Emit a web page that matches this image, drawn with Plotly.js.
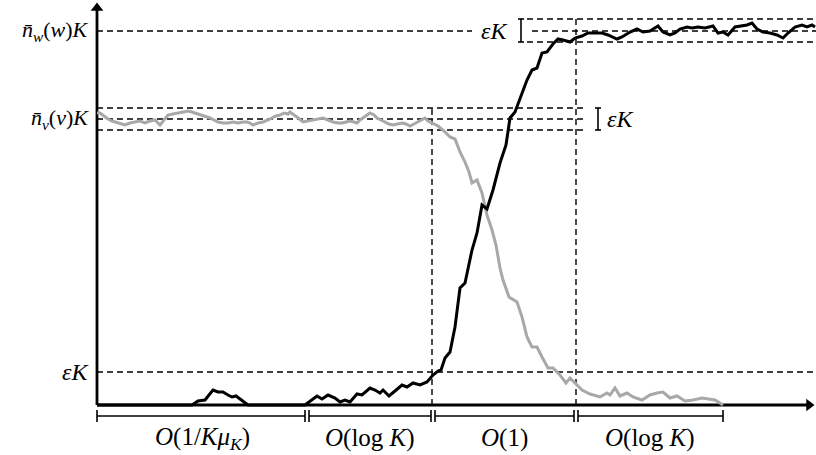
<!DOCTYPE html>
<html>
<head>
<meta charset="utf-8">
<script src="https://cdn.plot.ly/plotly-3.0.1.min.js"></script>
<style>html,body{margin:0;padding:0;background:#fff;}#chart{width:816px;height:455px;}</style>
</head>
<body>
<div id="chart"></div>
<script>
// ---- data (time t, population n; axes origin at 0,0) ----
const tGray = [0,3,7,11,15,18,23,28,33,38,43,48,53,58,63,67,71,76,81,86,91,95,98,102,105,109,113,117,121,126,131,136,141,146,150,153,156,161,166,171,175,179,183,187,191,193,197,200,206,211,216,221,226,231,236,241,245,249,253,257,260,263,266,270,273,277,280,284,288,292,296,300,305,309,313,317,321,324,328,331,335,341,346,353,358,363,368,372,375,380,385,390,395,399,403,406,412,420,425,430,435,440,445,451,456,463,469,473,480,485,493,503,510,513,518,523,530,536,545,553,560,566,573,580,588,596,605,610,618,626];
const nGray = [292,292,289,286,284,283,281,280,282,283,284,282,284,285,280,285,290,291,292,293,294,293,292,291,290,289,287,285,283,282,282,283,282,283,283,282,280,282,283,285,287,289,290,292,291,293,290,288,283,284,285,286,287,285,283,282,282,283,284,283,282,285,287,290,292,290,287,285,283,281,280,281,282,281,279,281,283,285,287,284,282,279,275,268,266,253,243,233,222,225,212,190,175,160,137,125,108,103,88,68,58,58,48,37,37,30,22,27,20,15,11,8,12,10,17,9,12,8,5,10,12,13,7,9,4,5,7,6,5,0];

const tBlack = [0,95,101,108,112,116,121,126,131,135,139,143,149,151,208,211,216,220,225,231,238,243,248,253,260,265,273,278,283,286,292,298,305,310,316,323,330,336,341,344,348,353,358,363,368,375,380,385,390,396,403,409,413,418,425,430,435,440,445,450,456,461,466,473,478,485,491,498,505,511,520,525,533,540,546,553,561,566,573,578,583,590,595,601,608,616,621,626,631,638,645,650,655,660,666,673,680,686,691,698,705,710,715,718];
const nBlack = [0,0,4,5,10,15,13,13,10,8,9,6,2,0,0,2,6,9,6,10,7,3,5,3,11,10,17,15,12,15,9,14,20,18,22,20,23,30,34,35,47,53,78,117,122,155,172,200,196,215,242,260,287,293,311,325,335,337,352,353,361,366,365,363,367,369,372,372,372,370,366,368,373,376,373,374,379,373,370,372,376,378,377,378,377,379,372,373,370,378,379,380,382,376,373,372,370,367,372,378,380,378,380,378];

// reference levels
const levelNw = 374, levelNwHi = 386, levelNwLo = 363;
const levelNv = 286, levelNvHi = 297, levelNvLo = 275;
const levelEps = 33;
// phase boundaries in time and their labels
const phaseBounds = [0, 210, 336, 479, 626];
const phaseLabels = ["<i>O</i>(1/<i>Kμ</i><sub><i>K</i></sub>)", "<i>O</i>(log <i>K</i>)", "<i>O</i>(1)", "<i>O</i>(log <i>K</i>)"];
const yLabels = ["<i>n\u0304</i><sub><i>w</i></sub>(<i>w</i>)<i>K</i>", "<i>n\u0304</i><sub><i>v</i></sub>(<i>v</i>)<i>K</i>", "<i>εK</i>"];
const epsLabel = "<i>εK</i>";

const xMin = -97, xMax = 719, yMin = -50, yMax = 405;

const dash = {color:'#000', width:1.4, dash:'6px,4px'};
function hline(y, x0, x1){return {type:'line', xref:'x', yref:'y', x0:x0, x1:x1, y0:y, y1:y, line:dash, layer:'below'};}
function vline(x, y0, y1){return {type:'line', xref:'x', yref:'y', x0:x, x1:x, y0:y0, y1:y1, line:dash, layer:'below'};}
function solid(x0,y0,x1,y1,w){return {type:'line', xref:'x', yref:'y', x0:x0, x1:x1, y0:y0, y1:y1, line:{color:'#000', width:w||1.6}, layer:'below'};}

const shapes = [
  hline(levelNw, 0, 375), hline(levelNw, 435, xMax),
  hline(levelNwHi, 430, xMax), hline(levelNwLo, 430, xMax),
  hline(levelNvHi, 0, 490), hline(levelNv, 0, 490), hline(levelNvLo, 0, 490),
  hline(levelEps, 0, xMax),
  vline(335, 0, levelNvHi), vline(479, 0, levelNwHi),
  // epsilon brackets
  solid(424, levelNwLo, 424, levelNwHi), solid(421, levelNwLo, 427, levelNwLo), solid(421, levelNwHi, 427, levelNwHi),
  solid(501, levelNvLo, 501, levelNvHi), solid(498, levelNvLo, 504, levelNvLo), solid(498, levelNvHi, 504, levelNvHi),
  // axes lines
  solid(0, 0, 0, 396, 2.8),
  solid(0, 0, 711, 0, 2.8)
];

const annotations = [];
// phase brackets
for (let i = 0; i < phaseLabels.length; i++) {
  const a = phaseBounds[i] + (i > 0 ? 2 : 0);
  const b = phaseBounds[i+1] - (i + 1 < phaseLabels.length ? 2 : 0);
  shapes.push(solid(a, -11, b, -11), solid(a, -5, a, -17), solid(b, -5, b, -17));
  annotations.push({x:(phaseBounds[i]+phaseBounds[i+1])/2, y:-33, xref:'x', yref:'y', text:phaseLabels[i], showarrow:false, xanchor:'center', yanchor:'middle'});
}
// y labels
[levelNw, levelNv, levelEps].forEach((lv, i) => {
  annotations.push({x:-6, y:lv, xref:'x', yref:'y', text:yLabels[i], showarrow:false, xanchor:'right', yanchor:'middle', font:{size: i < 2 ? 22 : 24}});
});
annotations.push({x:413, y:levelNw, xref:'x', yref:'y', text:epsLabel, showarrow:false, xanchor:'right', yanchor:'middle', font:{size:24}});
annotations.push({x:508, y:levelNv, xref:'x', yref:'y', text:epsLabel, showarrow:false, xanchor:'left', yanchor:'middle', font:{size:24}});

const traces = [
  {x:tGray, y:nGray, type:'scatter', mode:'lines', line:{color:'#a8a8a8', width:3}, hoverinfo:'skip'},
  {x:tBlack, y:nBlack, type:'scatter', mode:'lines', line:{color:'#000', width:3}, hoverinfo:'skip'},
  // axis arrowheads
  {x:[0], y:[397], type:'scatter', mode:'markers', marker:{symbol:'triangle-up', size:11, color:'#000'}, hoverinfo:'skip'},
  {x:[712], y:[0], type:'scatter', mode:'markers', marker:{symbol:'triangle-right', size:11, color:'#000'}, hoverinfo:'skip'}
];

const layout = {
  width:816, height:455,
  margin:{l:0, r:0, t:0, b:0},
  paper_bgcolor:'#fff', plot_bgcolor:'#fff',
  showlegend:false,
  font:{family:'"Liberation Serif", "DejaVu Serif", serif', size:25, color:'#000'},
  xaxis:{range:[xMin, xMax], visible:false, fixedrange:true},
  yaxis:{range:[yMin, yMax], visible:false, fixedrange:true},
  shapes:shapes,
  annotations:annotations
};

Plotly.newPlot('chart', traces, layout, {staticPlot:true, displayModeBar:false});
</script>
</body>
</html>
